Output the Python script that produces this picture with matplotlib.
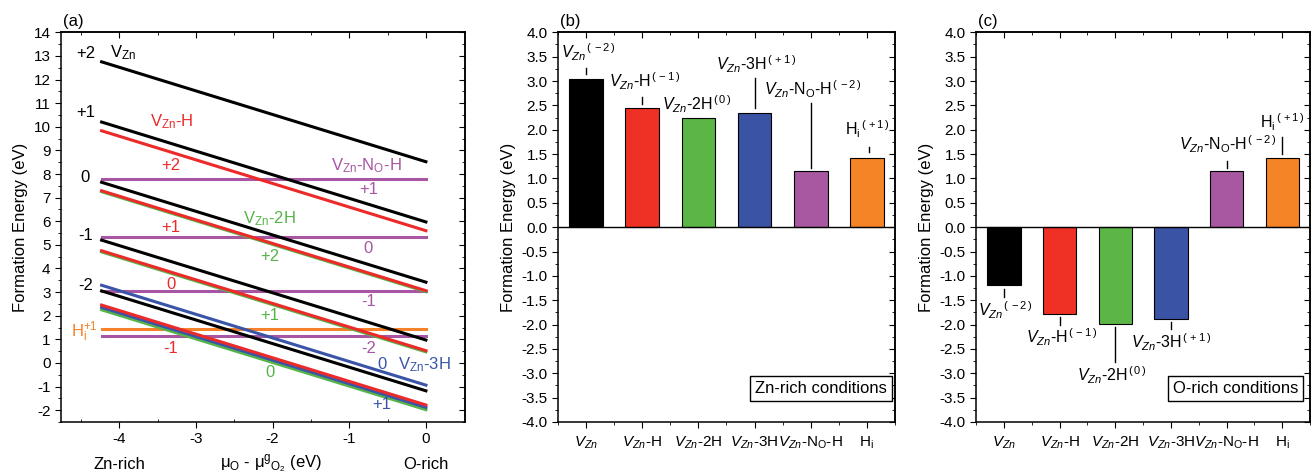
import matplotlib
matplotlib.use('Agg')
import matplotlib.pyplot as plt
import matplotlib.transforms as mtransforms
import numpy as np

plt.rcParams['font.family'] = ['Liberation Sans', 'DejaVu Sans']
plt.rcParams['mathtext.fontset'] = 'custom'
plt.rcParams['mathtext.rm'] = 'Liberation Sans'
plt.rcParams['mathtext.it'] = 'Liberation Sans:italic'
plt.rcParams['mathtext.bf'] = 'Liberation Sans:bold'
plt.rcParams['axes.unicode_minus'] = False
plt.rcParams['axes.linewidth'] = 1.1

# chemical potential range (Zn-rich end, O-rich end)
mu_range = [-4.23, 0.0]

# panel (a): formation energy of each charge state at Zn-rich / O-rich end
vzn_charges = ['+2', '+1', '0', '-1', '-2']
vzn_zn_rich = [12.75, 10.20, 7.65, 5.20, 3.05]
vzn_o_rich = [8.52, 5.97, 3.42, 0.97, -1.18]

vznh_charges = ['+2', '+1', '0', '-1']
vznh_zn_rich = [9.83, 7.29, 4.75, 2.45]
vznh_o_rich = [5.60, 3.06, 0.52, -1.78]

vzn2h_charges = ['+2', '+1', '0']
vzn2h_zn_rich = [7.25, 4.70, 2.25]
vzn2h_o_rich = [3.02, 0.47, -1.98]

vzn3h_charges = ['0', '+1']
vzn3h_zn_rich = [3.29, 2.35]
vzn3h_o_rich = [-0.94, -1.88]

vznnoh_charges = ['+1', '0', '-1', '-2']
vznnoh_level = [7.80, 5.33, 3.05, 1.15]

hi_level = [1.42]

# panels (b) and (c)
defect_ticks = [r'$V_{Zn}$', r'$V_{Zn}$-H', r'$V_{Zn}$-2H', r'$V_{Zn}$-3H',
                r'$V_{Zn}$-N$_\mathrm{O}$-H', r'H$_\mathrm{i}$']
defect_charges = ['-2', '-1', '0', '+1', '-2', '+1']
zn_rich_energy = [3.05, 2.45, 2.25, 2.35, 1.15, 1.42]
o_rich_energy = [-1.18, -1.78, -1.98, -1.88, 1.15, 1.42]

c_black = '#000000'
c_red = '#ec2a2a'
c_green = '#55b447'
c_blue = '#3a55a8'
c_purple = '#a855a3'
c_orange = '#f5822a'
bar_colors = ['#000000', '#ee3124', '#5cb646', '#3a53a4', '#a857a1', '#f58426']

fs_tick = 11
fs_lab = 12


def mirror_ticks(ax, xmaj, xmin, ymaj, ymin):
    top = ax.secondary_xaxis('top')
    top.set_ticks(xmaj)
    top.set_ticks(xmin, minor=True)
    top.tick_params(axis='x', which='both', direction='in', labeltop=False)
    top.tick_params(which='major', length=4)
    top.tick_params(which='minor', length=2.5)
    right = ax.secondary_yaxis('right')
    right.set_ticks(ymaj)
    right.set_ticks(ymin, minor=True)
    right.tick_params(axis='y', which='both', direction='in', labelright=False)
    right.tick_params(which='major', length=4)
    right.tick_params(which='minor', length=2.5)


fig = plt.figure(figsize=(13.11, 4.75), dpi=100)
ax_a = fig.add_axes([0.0465, 0.1116, 0.3082, 0.8204])
ax_b = fig.add_axes([0.4256, 0.1116, 0.2571, 0.8204])
ax_c = fig.add_axes([0.7445, 0.1116, 0.2548, 0.8204])

# ---------- panel (a) ----------
ax = ax_a
lw = 2.2
for lev in vznnoh_level:
    ax.plot(mu_range, [lev, lev], color=c_purple, lw=lw)
for lev in hi_level:
    ax.plot(mu_range, [lev, lev], color=c_orange, lw=lw)
for e0, e1 in zip(vzn2h_zn_rich, vzn2h_o_rich):
    ax.plot(mu_range, [e0, e1], color=c_green, lw=lw)
for e0, e1 in zip(vzn3h_zn_rich, vzn3h_o_rich):
    ax.plot(mu_range, [e0, e1], color=c_blue, lw=lw)
for e0, e1 in zip(vznh_zn_rich, vznh_o_rich):
    ax.plot(mu_range, [e0, e1], color=c_red, lw=lw)
for e0, e1 in zip(vzn_zn_rich, vzn_o_rich):
    ax.plot(mu_range, [e0, e1], color=c_black, lw=lw)

fk = dict(fontsize=12, va='baseline')
# V_Zn charge labels
for q, y in zip(vzn_charges, [12.9, 10.42, 7.67, 5.22, 3.08]):
    ax.text(-4.44, y, q, ha='center', color=c_black, **fk)
ax.text(-4.12, 12.94, r'$\mathrm{V_{Zn}}$', ha='left', color=c_black, **fk)
# V_Zn-H
for q, y in zip(vznh_charges, [8.17, 5.55, 3.15, 0.42]):
    ax.text(-3.33, y, q, ha='center', color=c_red, **fk)
ax.text(-3.60, 10.03, r'$\mathrm{V_{Zn}}$-H', ha='left', color=c_red, **fk)
# V_Zn-2H
for q, y in zip(vzn2h_charges, [4.32, 1.81, -0.59]):
    ax.text(-2.04, y, q, ha='center', color=c_green, **fk)
ax.text(-2.38, 5.93, r'$\mathrm{V_{Zn}}$-2H', ha='left', color=c_green, **fk)
# V_Zn-N_O-H
for q, y in zip(vznnoh_charges, [7.14, 4.66, 2.40, 0.42]):
    ax.text(-0.75, y, q, ha='center', color=c_purple, **fk)
ax.text(-0.31, 8.17, r'$\mathrm{V_{Zn}}$-N$_\mathrm{O}$-H', ha='right', color=c_purple, **fk)
# V_Zn-3H
ax.text(-0.57, -0.24, vzn3h_charges[0], ha='center', color=c_blue, **fk)
ax.text(-0.58, -1.97, vzn3h_charges[1], ha='center', color=c_blue, **fk)
ax.text(-0.36, -0.28, r'$\mathrm{V_{Zn}}$-3H', ha='left', color=c_blue, **fk)
# H_i
ax.text(-4.28, 1.1, r'$\mathrm{H_i^{+1}}$', ha='right', color=c_orange, **fk)

ax.set_xlim(-4.76, 0.51)
ax.set_ylim(-2.5, 14)
xmaj = np.arange(-4, 0.5, 1)
xmin = np.arange(-4.5, 0.5, 0.5)
ymaj = np.arange(-2, 14.5, 1)
ymin = np.arange(-2.5, 14.1, 0.5)
ax.set_xticks(xmaj)
ax.set_xticks(xmin, minor=True)
ax.set_yticks(ymaj)
ax.set_yticks(ymin, minor=True)
ax.set_xticklabels(['%d' % v for v in xmaj])
ax.tick_params(which='major', direction='out', length=4, labelsize=fs_tick)
ax.tick_params(which='minor', direction='out', length=2.5)
ax.tick_params(axis='x', which='minor', direction='in')
mirror_ticks(ax, xmaj, xmin, ymaj, ymin)
ax.set_ylabel('Formation Energy (eV)', fontsize=fs_lab)
trans = mtransforms.blended_transform_factory(ax.transData, ax.transAxes)
ax.text(-4.0, -0.108, 'Zn-rich', transform=trans, ha='center', va='center', fontsize=fs_lab)
ax.text(0.0, -0.108, 'O-rich', transform=trans, ha='center', va='center', fontsize=fs_lab)
ax.text(0.52, -0.108, 'μ$_\\mathrm{O}$ - μ$^\\mathrm{g}$$_{\\mathrm{O_2}}$ (eV)',
        transform=ax.transAxes, ha='center', va='center', fontsize=fs_lab)
ax.text(0.005, 1.008, '(a)', transform=ax.transAxes, ha='left', va='bottom', fontsize=fs_lab)

# ---------- panels (b) and (c) ----------
def bar_panel(ax, energies, letter, box_text, box_x, labels):
    x = np.arange(len(energies))
    ax.bar(x, energies, width=0.6, color=bar_colors, edgecolor='black', linewidth=0.8, zorder=2)
    ax.axhline(0, color='black', lw=1.0, zorder=3)
    for (tx, ty, lx, ly0, ly1), name, q in zip(labels, defect_ticks, defect_charges):
        s = name + r'$^{\,(\,' + q + r'\,)}$'
        ax.text(tx, ty, s, ha='left', va='baseline', fontsize=11.5)
        if ly0 is not None:
            ax.plot([lx, lx], [ly0, ly1], color='black', lw=1.0)
    ax.set_xlim(-0.5, 5.5)
    ax.set_ylim(-4, 4)
    xmaj = np.arange(6)
    xmin = np.arange(-0.5, 5.6, 1.0)
    ymaj = np.arange(-4, 4.01, 0.5)
    ymin = np.arange(-4, 4.01, 0.25)
    ax.set_xticks(xmaj)
    ax.set_xticklabels(defect_ticks)
    ax.set_xticks(xmin, minor=True)
    ax.set_yticks(ymaj)
    ax.set_yticks(ymin, minor=True)
    ax.set_yticklabels(['%.1f' % v for v in ymaj])
    ax.tick_params(which='major', direction='out', length=4, labelsize=fs_tick)
    ax.tick_params(which='minor', direction='out', length=2.5)
    ax.tick_params(axis='x', which='major', pad=5)
    mirror_ticks(ax, xmaj, xmin, ymaj, ymin)
    ax.set_ylabel('Formation Energy (eV)', fontsize=fs_lab)
    ax.text(box_x, 0.087, box_text, transform=ax.transAxes, ha='right', va='center',
            fontsize=fs_lab,
            bbox=dict(boxstyle='square,pad=0.3', fc='white', ec='black', lw=1.0))
    ax.text(0.005, 1.008, letter, transform=ax.transAxes, ha='left', va='bottom', fontsize=fs_lab)


# (text x, text baseline y, line x, line y0, line y1)
labels_b = [(-0.45, 3.47, 0, 3.14, 3.27),
            (0.40, 2.87, 1, 2.53, 2.68),
            (1.36, 2.40, 2, None, None),
            (2.31, 3.23, 3, 2.44, 3.06),
            (3.17, 2.71, 4, 1.21, 2.55),
            (4.61, 1.89, 5.03, 1.55, 1.65)]
labels_c = [(-0.47, -1.84, 0, -1.43, -1.26),
            (0.40, -2.39, 1, -2.00, -1.85),
            (1.32, -3.17, 2, -2.77, -2.05),
            (2.28, -2.49, 3, -2.10, -1.94),
            (3.14, 1.58, 4, 1.21, 1.36),
            (4.60, 2.03, 4.99, 1.50, 1.86)]

bar_panel(ax_b, zn_rich_energy, '(b)', 'Zn-rich conditions', 0.975, labels_b)
bar_panel(ax_c, o_rich_energy, '(c)', 'O-rich conditions', 0.965, labels_c)

fig.savefig('out.png', dpi=100)
